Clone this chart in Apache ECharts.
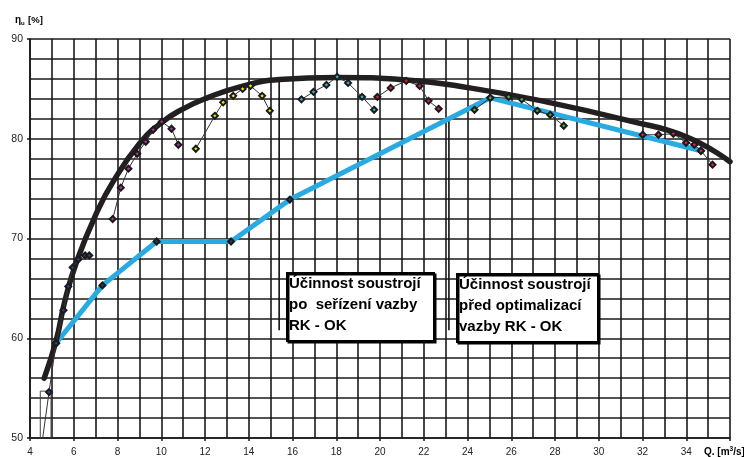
<!DOCTYPE html>
<html><head><meta charset="utf-8">
<script src="https://cdn.jsdelivr.net/npm/echarts@6/dist/echarts.min.js"></script>
<style>html,body{margin:0;padding:0;background:#fff}#c{width:744px;height:457px}</style>
</head><body><div id="c"></div>
<script>
// x tick labels (Q [m3/s]) and y tick labels (eta [%])
const xTickLabels = [4,6,8,10,12,14,16,18,20,22,24,26,28,30,32,34];
const yTickLabels = [50,60,70,80,90];

// thick black envelope curve (after adjustment RK-OK)
const envelopeCurve = [[4.65,56.0],[5.2,59.8],[5.6,63.8],[6.15,67.8],[7.05,72.6],[7.8,75.7],[9.0,79.5],[10.0,81.6],[11.0,83.0],[12.1,84.1],[13.6,85.2],[15.4,85.95],[18.0,86.15],[21.2,85.9],[24.1,85.1],[27.6,83.7],[31.4,81.8],[34.0,80.2],[36.0,77.7]];
// blue curve (before optimization)
const beforeOptimization = [[5.19,59.5],[7.31,65.3],[9.79,69.7],[13.19,69.7],[15.88,73.9],[25.04,84.1],[34.67,78.8]];
// measured points, groups of runs
const measuredA = [[4.58,50.0],[4.87,54.6],[5.19,59.5],[5.53,62.8],[5.75,65.2],[5.95,67.1],[6.21,67.9],[6.52,68.3],[6.71,68.3]];
const measuredB = [[7.78,71.95],[8.15,75.1],[8.5,77.0],[8.9,78.5],[9.29,79.7],[9.63,80.9],[10.02,81.7],[10.47,81.0],[10.78,79.4]];
const measuredC = [[11.58,79.0],[12.45,82.3],[12.83,83.65],[13.29,84.3],[13.72,85.0],[14.08,85.3],[14.61,84.3],[14.96,82.8]];
const measuredD = [[16.41,83.95],[16.96,84.7],[17.55,85.4],[18.04,86.2],[18.54,85.6],[19.18,84.2],[19.73,82.9]];
const measuredE = [[19.88,84.2],[20.49,85.1],[21.2,85.8],[21.81,85.3],[22.22,83.8],[22.68,83.0]];
const measuredF = [[24.32,82.9],[25.04,84.1],[25.88,84.2],[26.48,83.95],[27.19,82.8],[27.78,82.4],[28.4,81.3]];
const measuredG = [[32.01,80.4],[32.73,80.4],[33.41,80.5],[33.99,79.6],[34.37,79.4],[34.67,78.8],[35.2,77.4]];
// small rectangle at the lower-left
const startRect = [[4.47,50.0],[4.47,54.7],[4.96,54.7],[4.96,50.0]];
// leader lines from text boxes
const leader1 = [[15.39,86.0],[15.39,60.8]];
const leader2 = [[23.15,82.0],[23.15,60.8]];

const FONT = "'Liberation Sans', Arial, sans-serif";
const chart = echarts.init(document.getElementById('c'), null, {renderer:'canvas'});

function measured(data, center){
  return {type:'line', z:5, symbol:'diamond', symbolSize:6, showSymbol:true,
    data: data.map(p => p[1] <= 50 ? {value:p, symbol:'none'} : p),
    lineStyle:{color:'#333', width:1},
    itemStyle:{color:center, borderColor:'#1a1a1a', borderWidth:2},
    animation:false, silent:true};
}
const gridLine = {show:true, lineStyle:{color:'#1a1a1a', width:1.6}};

chart.setOption({
  animation:false,
  backgroundColor:'#fff',
  grid:{left:30, right:14, top:39, bottom:19, containLabel:false},
  xAxis:{type:'value', min:4, max:36, interval:2,
    axisLine:{show:true, onZero:false, lineStyle:{color:'#1a1a1a', width:1.6}},
    axisTick:{show:true, length:3, lineStyle:{color:'#1a1a1a', width:1.5}},
    minorTick:{show:true, splitNumber:2, length:0, lineStyle:{color:'rgba(0,0,0,0)'}},
    minorSplitLine:gridLine,
    splitLine:gridLine,
    axisLabel:{fontFamily:FONT, fontSize:10, color:'#222', margin:9,
      formatter:v => xTickLabels.includes(v) ? String(v) : ''}
  },
  yAxis:{type:'value', min:50, max:90, interval:10,
    axisLine:{show:true, onZero:false, lineStyle:{color:'#1a1a1a', width:1.6}},
    axisTick:{show:true, length:3, lineStyle:{color:'#1a1a1a', width:1.5}},
    minorTick:{show:true, splitNumber:5, length:0, lineStyle:{color:'rgba(0,0,0,0)'}},
    minorSplitLine:gridLine,
    splitLine:gridLine,
    axisLabel:{fontFamily:FONT, fontSize:10.5, color:'#222', margin:7,
      formatter:v => yTickLabels.includes(v) ? String(v) : ''}
  },
  series:[
    {type:'line', data:startRect, z:3, symbol:'none', lineStyle:{color:'#444', width:1}, silent:true},
    {type:'line', data:leader1, z:3, symbol:'none', lineStyle:{color:'#111', width:1.6}, silent:true},
    {type:'line', data:leader2, z:3, symbol:'none', lineStyle:{color:'#111', width:1.6}, silent:true},
    {type:'line', data:beforeOptimization, z:3, symbol:'diamond', symbolSize:6,
      lineStyle:{color:'#29abe2', width:5, cap:'round', join:'round'},
      itemStyle:{color:'#2a3b5c', borderColor:'#1a1a1a', borderWidth:2}, silent:true},
    {type:'line', data:envelopeCurve, z:4, symbol:'none', smooth:0.5,
      lineStyle:{color:'#231f20', width:5.5, cap:'round'}, silent:true},
    measured(measuredA, '#2a3f8f'),
    measured(measuredB, '#b4349c'),
    measured(measuredC, '#f3e600'),
    measured(measuredD, '#2bb6c8'),
    measured(measuredE, '#d8232a'),
    measured(measuredF, '#4cb04a'),
    measured(measuredG, '#e0245e')
  ],
  graphic:[
    {type:'rect', left:286, top:272, z:100, shape:{width:147,height:68},
      style:{fill:'#fff', stroke:'#000', lineWidth:2, shadowColor:'#000', shadowOffsetX:1.5, shadowOffsetY:1.5, shadowBlur:0}},
    {type:'text', left:289, top:273, z:101, style:{text:'Účinnost soustrojí\npo  seřízení vazby\nRK - OK',
      font:"bold 15px 'Liberation Sans', Arial, sans-serif", lineHeight:21, fill:'#000'}},
    {type:'rect', left:456, top:273, z:100, shape:{width:141,height:68},
      style:{fill:'#fff', stroke:'#000', lineWidth:2, shadowColor:'#000', shadowOffsetX:1.5, shadowOffsetY:1.5, shadowBlur:0}},
    {type:'text', left:459, top:274, z:101, style:{text:'Účinnost soustrojí\npřed optimalizací\nvazby RK - OK',
      font:"bold 15px 'Liberation Sans', Arial, sans-serif", lineHeight:21, fill:'#000'}},
    {type:'text', left:15, top:14, z:100, style:{
      text:'{a|η}{b|u} {c|[%]}',
      rich:{a:{fontFamily:FONT, fontWeight:'bold', fontSize:10, fill:'#000'},
            b:{fontFamily:FONT, fontWeight:'bold', fontSize:6, fill:'#000', verticalAlign:'bottom', padding:[4,0,0,0]},
            c:{fontFamily:FONT, fontWeight:'bold', fontSize:9.5, fill:'#000'}}}},
    {type:'text', left:704, top:446, z:100, style:{
      text:'{a|Q. [m}{b|3}{a|/s]}',
      rich:{a:{fontFamily:FONT, fontWeight:'bold', fontSize:10, fill:'#000'},
            b:{fontFamily:FONT, fontWeight:'bold', fontSize:6.5, fill:'#000', verticalAlign:'top', padding:[0,0,5,0]}}}}
  ]
});
</script></body></html>
